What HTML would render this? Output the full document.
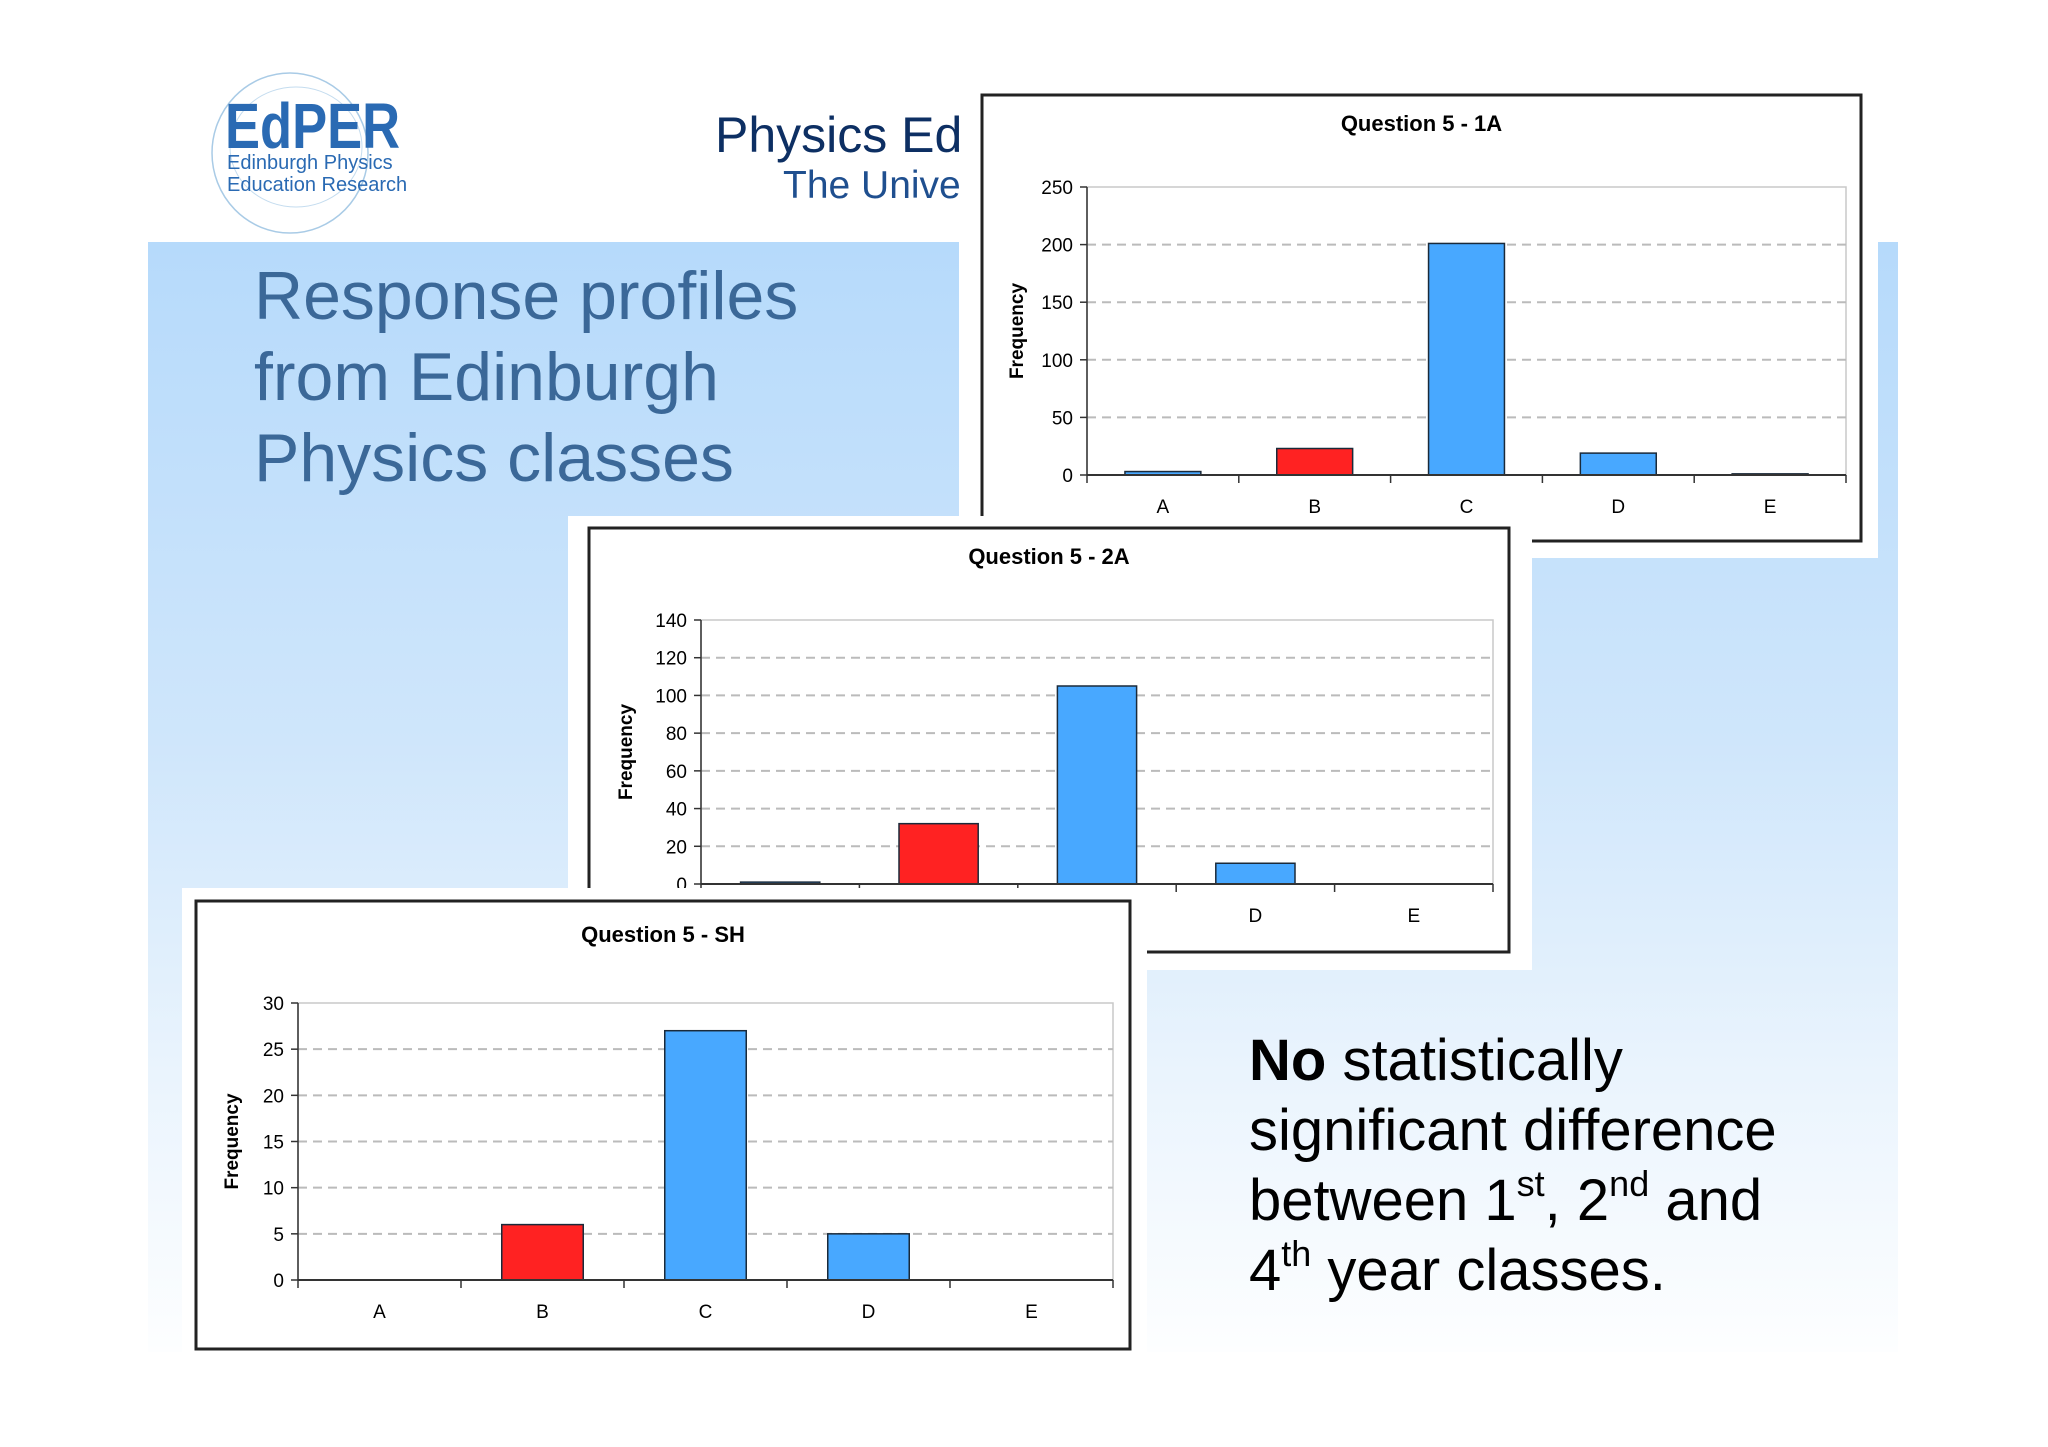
<!DOCTYPE html>
<html><head><meta charset="utf-8"><style>
html,body{margin:0;padding:0}
body{width:2048px;height:1447px;position:relative;overflow:hidden;background:#fff;font-family:"Liberation Sans",sans-serif}
.abs{position:absolute}
sup{font-size:36px;line-height:0;vertical-align:0;position:relative;top:-24px}
</style></head><body>
<div class="abs" style="left:148px;top:242px;width:1750px;height:1110px;background:linear-gradient(180deg,#b6dafb 0%,#cfe6fb 45%,#eaf4fd 75%,#fdfeff 100%)"></div>
<svg class="abs" style="left:200px;top:65px" width="220" height="180">
<ellipse cx="90" cy="88" rx="78" ry="80" fill="none" stroke="#a9cbe6" stroke-width="1.5"/>
<ellipse cx="96" cy="82" rx="66" ry="60" fill="none" stroke="#c4dcef" stroke-width="1"/>
<text x="25" y="83" font-family="Liberation Sans" font-weight="bold" font-size="64" fill="#2a6ab3" textLength="175" lengthAdjust="spacingAndGlyphs">EdPER</text>
<text x="27" y="104" font-family="Liberation Sans" font-size="20" fill="#2a6ab3">Edinburgh Physics</text>
<text x="27" y="126" font-family="Liberation Sans" font-size="20" fill="#2a6ab3">Education Research</text>
</svg>
<div class="abs" style="left:715px;top:106px;font-size:50px;color:#0d2f63;white-space:nowrap">Physics Ed</div>
<div class="abs" style="left:783px;top:164px;font-size:39px;color:#1f4f8f;white-space:nowrap">The Unive</div>
<div class="abs" style="left:254px;top:256px;font-size:68px;line-height:81px;color:#3b6898">Response profiles<br>from Edinburgh<br>Physics classes</div>
<div class="abs" style="left:1249px;top:1026px;font-size:58px;line-height:70px;color:#000;white-space:nowrap"><b>No</b> statistically<br>significant difference<br>between 1<sup>st</sup>, 2<sup>nd</sup> and<br>4<sup>th</sup> year classes.</div>
<div id="charts"></div>
<script>
const cats = ["A","B","C","D","E"];
const vals1A = [3,23,201,19,1];
const vals2A = [1,32,105,11,0];
const valsSH = [0,6,27,5,0];
const ticks1A = [0,50,100,150,200,250];
const ticks2A = [0,20,40,60,80,100,120,140];
const ticksSH = [0,5,10,15,20,25,30];
const NS="http://www.w3.org/2000/svg";
function el(t,a,p){const e=document.createElementNS(NS,t);for(const k in a)e.setAttribute(k,a[k]);if(p)p.appendChild(e);return e;}
function chart(cfg,vals,ticks){
  const svg=el("svg",{width:2048,height:1447,style:"position:absolute;left:0;top:0"});
  
  
  document.getElementById('charts').appendChild(svg);
  el("rect",{x:cfg.bg[0],y:cfg.bg[1],width:cfg.bg[2],height:cfg.bg[3],fill:"#fff"},svg);
  el("rect",{x:cfg.box[0],y:cfg.box[1],width:cfg.box[2],height:cfg.box[3],fill:"#fff",stroke:"#222","stroke-width":3},svg);
  const [px,py,pw,ph]=cfg.plot;
  const max=ticks[ticks.length-1];
  const y=v=>py+ph-v/max*ph;
  const x=i=>px+pw/cats.length*i;
  el("rect",{x:px,y:py,width:pw,height:ph,fill:"none",stroke:"#c8c8c8","stroke-width":1.5},svg);
  const t=el("text",{x:(cfg.box[0]+cfg.box[2]/2),y:cfg.titleY,"text-anchor":"middle","font-size":22,"font-weight":"bold","font-family":"Liberation Sans",fill:"#000"},svg);
  t.textContent=cfg.title;
  
  
  ticks.forEach((v,i)=>{
    if(i>0&&i<ticks.length-1){const g=el("line",{x1:px,x2:px+pw,y1:y(v),y2:y(v),stroke:"#bbb","stroke-width":2,"stroke-dasharray":"9,6"},svg);
      }
    el("line",{x1:px-7,x2:px,y1:y(v),y2:y(v),stroke:"#333","stroke-width":1.5},svg);
    const l=el("text",{x:px-14,y:y(v)+7,"text-anchor":"end","font-size":19,"font-family":"Liberation Sans",fill:"#000"},svg);
    l.textContent=v;
    
    
  });
  const yl=el("text",{x:0,y:0,transform:`translate(${cfg.ylabX},${py+ph/2}) rotate(-90)`,"text-anchor":"middle","font-size":19,"font-weight":"bold","font-family":"Liberation Sans",fill:"#000"},svg);
  yl.textContent="Frequency";
  
  
  const cw=pw/cats.length;
  vals.forEach((v,i)=>{
    const b=el("rect",{x:x(i)+cw*0.25,y:y(v),width:cw*0.5,height:Math.max(ph-(y(v)-py),0),fill:i===1?"#ff2222":"#48a8ff",stroke:"#1a2a3a","stroke-width":1.5},svg);
    
    
  });
  el("line",{x1:px,x2:px+pw,y1:py+ph,y2:py+ph,stroke:"#333","stroke-width":2},svg);
  el("line",{x1:px,x2:px,y1:py,y2:py+ph+8,stroke:"#333","stroke-width":1.5},svg);
  cats.forEach((c,i)=>{
    el("line",{x1:x(i+1),x2:x(i+1),y1:py+ph,y2:py+ph+8,stroke:"#333","stroke-width":1.5},svg);
    const l=el("text",{x:x(i)+cw/2,y:py+ph+38,"text-anchor":"middle","font-size":19,"font-family":"Liberation Sans",fill:"#000"},svg);
    l.textContent=c;
    
    
  });
}
chart({id:"1a",title:"Question 5 - 1A",bg:[959,78,919,480],box:[982,95,879,446],plot:[1087,187,759,288],titleY:131,ylabX:1023},vals1A,ticks1A);
chart({id:"2a",title:"Question 5 - 2A",bg:[568,516,964,454],box:[589,528,920,424],plot:[701,620,792,264],titleY:564,ylabX:632},vals2A,ticks2A);
chart({id:"sh",title:"Question 5 - SH",bg:[182,888,965,477],box:[196,901,934,448],plot:[298,1003,815,277],titleY:942,ylabX:238},valsSH,ticksSH);
</script>
</body></html>
